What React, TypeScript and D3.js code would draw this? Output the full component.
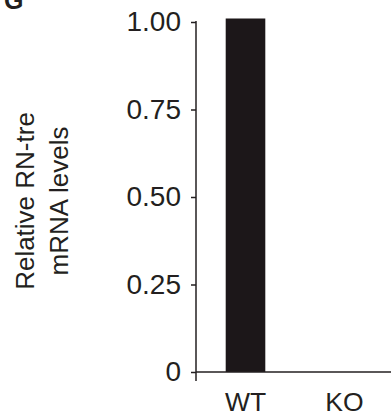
import React, { useEffect, useRef } from 'react';
import * as d3 from 'd3';

const groups = ['WT', 'KO'];
const values = [1.01, 0];
const yTicks = [0, 0.25, 0.5, 0.75, 1];
const yLabelLines = ['Relative RN-tre', 'mRNA levels'];
const panelLetter = 'G';

export default function App() {
  const ref = useRef<SVGSVGElement>(null);

  useEffect(() => {
    const svg = d3.select(ref.current);
    svg.selectAll('*').remove();

    const width = 391, height = 416;
    const axisX = 196;
    const ink = '#231f20';
    const font = 'Liberation Sans, Arial, sans-serif';

    const y = d3.scaleLinear().domain([0, 1]).range([372, 22]);
    const x = d3.scaleBand().domain(groups).range([axisX, 394]).paddingInner(0.6).paddingOuter(0.3);

    svg.attr('width', width).attr('height', height);

    // bars
    svg.append('g').selectAll('rect')
      .data(groups.map((g, i) => ({ g, v: values[i] })))
      .enter().append('rect')
      .attr('x', d => x(d.g)!)
      .attr('y', d => y(d.v))
      .attr('width', x.bandwidth())
      .attr('height', d => y(0) - y(d.v))
      .attr('fill', '#1c1719');

    // y axis
    const yAxis = svg.append('g').attr('transform', `translate(${axisX},0)`)
      .call(d3.axisLeft(y).tickValues(yTicks).tickSize(5).tickSizeOuter(0).tickPadding(10)
        .tickFormat(d => (+d === 0 ? '0' : d3.format('.2f')(+d))));
    yAxis.select('.domain').remove();
    yAxis.selectAll('line').attr('stroke', ink).attr('stroke-width', 1.5);
    yAxis.selectAll('text').attr('fill', ink).style('font-family', font).style('font-size', '28px');
    yAxis.append('line').attr('x1', 0).attr('x2', 0).attr('y1', y(1) - 1).attr('y2', y(0) + 9)
      .attr('stroke', ink).attr('stroke-width', 1.5);

    // x axis
    const xAxis = svg.append('g').attr('transform', `translate(0,${y(0)})`)
      .call(d3.axisBottom(x).tickSize(0).tickPadding(20));
    xAxis.select('.domain').remove();
    xAxis.selectAll('text').attr('fill', ink).style('font-family', font).style('font-size', '26.5px');
    xAxis.append('line').attr('x1', axisX).attr('x2', width).attr('y1', 0).attr('y2', 0)
      .attr('stroke', ink).attr('stroke-width', 1.5);

    // y label
    const lab = svg.append('text')
      .attr('transform', `translate(34,${(y(0) + y(1)) / 2 + 4}) rotate(-90)`)
      .attr('text-anchor', 'middle')
      .attr('fill', ink).style('font-family', font).style('font-size', '26px');
    yLabelLines.forEach((t, i) => {
      lab.append('tspan').attr('x', 0).attr('dy', i === 0 ? 0 : 34).text(t);
    });

    // panel letter
    svg.append('text').attr('x', 4).attr('y', 9).text(panelLetter)
      .attr('fill', ink).style('font-family', font).style('font-size', '25px').style('font-weight', 'bold');
  }, []);

  return (
    <div style={{ position: 'absolute', left: 0, top: 0 }}>
      <svg ref={ref} style={{ display: 'block' }} />
    </div>
  );
}
